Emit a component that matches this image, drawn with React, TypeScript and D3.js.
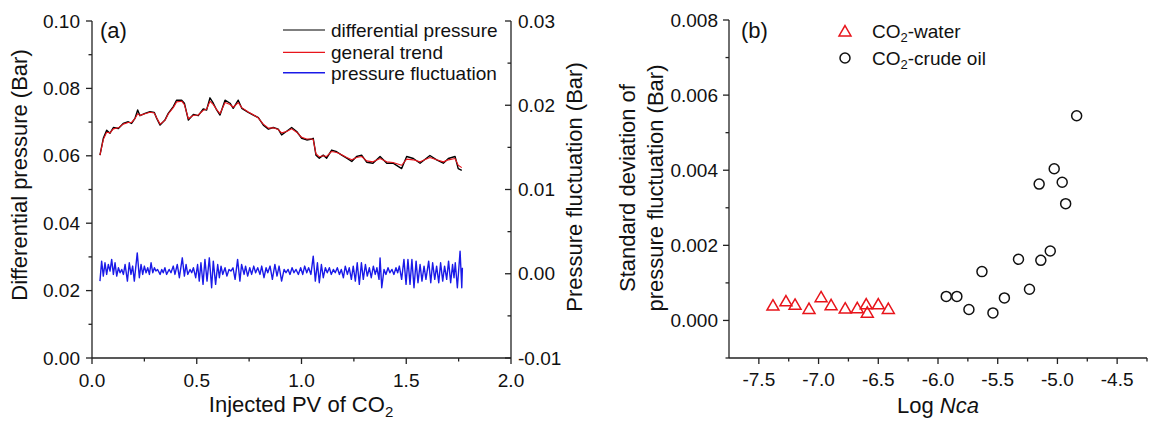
import React from "react";
import * as d3 from "d3";

const FONT = '"Liberation Sans", Arial, Helvetica, sans-serif';

// ---------- Panel (a) data ----------
const pressurePV = [
  0.038, 0.054, 0.070, 0.086, 0.102, 0.126, 0.149, 0.173, 0.189, 0.205,
  0.218, 0.229, 0.253, 0.277, 0.297, 0.309, 0.325, 0.348, 0.364, 0.388,
  0.404, 0.428, 0.441, 0.460, 0.484, 0.507, 0.531, 0.547, 0.563, 0.579,
  0.595, 0.611, 0.635, 0.659, 0.674, 0.698, 0.715, 0.746, 0.770, 0.794,
  0.818, 0.842, 0.865, 0.889, 0.905, 0.929, 0.953, 0.977, 1.001, 1.025,
  1.049, 1.056, 1.069, 1.085, 1.104, 1.120, 1.144, 1.168, 1.192, 1.216,
  1.240, 1.263, 1.287, 1.311, 1.341, 1.375, 1.407, 1.437, 1.478, 1.502,
  1.534, 1.566, 1.613, 1.645, 1.677, 1.701, 1.733, 1.748, 1.765,
];
const diffPressure = [
  0.0602, 0.0652, 0.0676, 0.0667, 0.0684, 0.0681, 0.0696, 0.0701, 0.0696, 0.0711,
  0.0736, 0.0719, 0.0726, 0.0731, 0.0729, 0.0711, 0.0691, 0.0706, 0.0726, 0.0746,
  0.0765, 0.0765, 0.0756, 0.0706, 0.0723, 0.0719, 0.0739, 0.0736, 0.0772, 0.0756,
  0.0736, 0.0721, 0.0765, 0.0756, 0.0741, 0.0765, 0.0741, 0.0729, 0.0721, 0.0713,
  0.0691, 0.0679, 0.0684, 0.0679, 0.0662, 0.0673, 0.0684, 0.0672, 0.0652, 0.0647,
  0.0650, 0.0652, 0.0602, 0.0593, 0.0602, 0.0593, 0.0617, 0.0612, 0.0602, 0.0593,
  0.0583, 0.0598, 0.0602, 0.0581, 0.0578, 0.0598, 0.0578, 0.0578, 0.0562, 0.0598,
  0.0592, 0.0578, 0.0601, 0.0588, 0.0578, 0.0592, 0.0598, 0.0562, 0.0557,
];
const generalTrend = [
  0.0602, 0.0648, 0.0670, 0.0668, 0.0680, 0.0683, 0.0694, 0.0699, 0.0699, 0.0710,
  0.0725, 0.0720, 0.0725, 0.0729, 0.0727, 0.0712, 0.0694, 0.0705, 0.0724, 0.0743,
  0.0760, 0.0762, 0.0752, 0.0710, 0.0720, 0.0721, 0.0735, 0.0738, 0.0762, 0.0752,
  0.0737, 0.0725, 0.0758, 0.0752, 0.0744, 0.0758, 0.0743, 0.0730, 0.0722, 0.0712,
  0.0694, 0.0682, 0.0683, 0.0678, 0.0668, 0.0672, 0.0680, 0.0670, 0.0655, 0.0650,
  0.0650, 0.0648, 0.0606, 0.0597, 0.0600, 0.0598, 0.0613, 0.0610, 0.0603, 0.0595,
  0.0588, 0.0595, 0.0598, 0.0585, 0.0582, 0.0592, 0.0582, 0.0580, 0.0572, 0.0590,
  0.0588, 0.0582, 0.0595, 0.0588, 0.0582, 0.0588, 0.0592, 0.0572, 0.0565,
];

const fluctPV = [
  0.038, 0.046, 0.054, 0.062, 0.070, 0.078, 0.086, 0.094, 0.102, 0.110,
  0.118, 0.126, 0.134, 0.142, 0.150, 0.158, 0.169, 0.178, 0.186, 0.194,
  0.202, 0.216, 0.226, 0.234, 0.242, 0.250, 0.258, 0.266, 0.274, 0.282,
  0.290, 0.298, 0.305, 0.313, 0.325, 0.333, 0.340, 0.348, 0.356, 0.368,
  0.377, 0.388, 0.396, 0.407, 0.417, 0.431, 0.441, 0.449, 0.457, 0.468,
  0.476, 0.484, 0.495, 0.504, 0.512, 0.520, 0.530, 0.539, 0.549, 0.560,
  0.571, 0.579, 0.590, 0.600, 0.608, 0.616, 0.624, 0.635, 0.644, 0.654,
  0.663, 0.673, 0.683, 0.695, 0.706, 0.714, 0.726, 0.733, 0.743, 0.753,
  0.762, 0.772, 0.781, 0.791, 0.802, 0.810, 0.821, 0.831, 0.839, 0.850,
  0.861, 0.873, 0.883, 0.893, 0.905, 0.917,
  0.926, 0.936, 0.945, 0.955, 0.964, 0.974, 0.985, 0.996, 1.006, 1.015,
  1.025, 1.034, 1.045, 1.056, 1.066, 1.076, 1.085, 1.095, 1.104, 1.114,
  1.123, 1.133, 1.142, 1.152, 1.161, 1.171, 1.181, 1.190, 1.200, 1.209,
  1.219, 1.228, 1.238, 1.247, 1.257, 1.266, 1.276, 1.286, 1.295, 1.305,
  1.314, 1.324, 1.333, 1.343, 1.352, 1.360, 1.370, 1.375, 1.383, 1.394,
  1.403, 1.413, 1.422, 1.432, 1.441, 1.451, 1.459, 1.467, 1.478, 1.489,
  1.499, 1.508, 1.518, 1.527, 1.537, 1.547, 1.556, 1.566, 1.575, 1.585,
  1.594, 1.607, 1.617, 1.626, 1.636, 1.645, 1.655, 1.664, 1.674, 1.683,
  1.693, 1.702, 1.712, 1.721, 1.728, 1.734, 1.744, 1.757, 1.765, 1.768,
];
const fluctValues = [
  -0.00087, 0.0015, -0.00028, 0.0013, -0.00008, 0.0011, 0.00032, 0.0017, -0.00008, 0.0013,
  -0.00028, 0.00071, 0.00012, 0.00051, -0.00008, 0.0011, -0.00087, 0.0013, -0.00008, 0.00091,
  -0.00087, 0.00248, -0.00047, 0.0011, -0.00008, 0.00091, 0.00012, 0.00071, -0.00008, 0.0013,
  0.00012, 0.00071, 0.00032, 0.00051, -0.00008, 0.00051, 0.00012, 0.00071, -0.00008, 0.00051,
  0.00012, 0.00091, -0.00008, 0.0011, -0.00047, 0.00189, -0.00028, 0.0011, -0.00008, 0.00051,
  0.00012, 0.00071, -0.00047, 0.0011, -0.00087, 0.0013, -0.00126, 0.0017, -0.00087, 0.00189,
  -0.00166, 0.0015, -0.00126, 0.0011, -0.00047, 0.00091, -0.00008, 0.00071, -0.00028, 0.00051,
  0.00032, 0.00071, -0.00067, 0.0017, -0.00087, 0.0011, -0.00008, 0.00091, -0.00028, 0.00071,
  -0.00008, 0.00091, 0.00012, 0.00071, -0.00008, 0.00091, -0.00047, 0.00071, 0.00012, 0.00091,
  -0.00067, 0.0011, -0.00028, 0.00091, -0.00087, 0.00051,
  0.00012, 0.00051, -0.00008, 0.00071, 0.00012, 0.00051, -0.00008, 0.00071, -0.00008, 0.00091,
  0.00012, 0.00071, -0.00008, 0.00209, -0.00087, 0.0013, -0.00107, 0.0011, -0.00047, 0.00071,
  0.00012, 0.00071, -0.00008, 0.00051, 0.00012, 0.00071, -0.00008, 0.00051, -0.00047, 0.00091,
  -0.00008, 0.00071, -0.00067, 0.00091, -0.00087, 0.0013, -0.00126, 0.0013, -0.00067, 0.0011,
  -0.00028, 0.00071, -0.00047, 0.00091, -0.00008, 0.00071, -0.00067, 0.00189, -0.00166, 0.00051,
  -0.00008, 0.00071, 0.00012, 0.00051, -0.00008, 0.00071, 0.00012, 0.00091, -0.00067, 0.0017,
  -0.00126, 0.0017, -0.00126, 0.0017, -0.00166, 0.0015, -0.00107, 0.0011, -0.00087, 0.00091,
  -0.00067, 0.0015, -0.00107, 0.0013, -0.00067, 0.00091, -0.00107, 0.0013, -0.00087, 0.00091,
  -0.00067, 0.0015, -0.00107, 0.0011, -0.00047, 0.0013, -0.00166, 0.00268, -0.00166, 0.00071,
];

const aLeftTicks = [0, 0.02, 0.04, 0.06, 0.08, 0.1];
const aLeftLabels = ["0.00", "0.02", "0.04", "0.06", "0.08", "0.10"];
const aLeftMinor = [0.01, 0.03, 0.05, 0.07, 0.09];
const aRightTicks = [-0.01, 0, 0.01, 0.02, 0.03];
const aRightLabels = ["-0.01", "0.00", "0.01", "0.02", "0.03"];
const aRightMinor = [-0.005, 0.005, 0.015, 0.025];
const aBottomTicks = [0, 0.5, 1, 1.5, 2];
const aBottomLabels = ["0.0", "0.5", "1.0", "1.5", "2.0"];
const aBottomMinor = [0.25, 0.75, 1.25, 1.75];

// ---------- Panel (b) data ----------
const waterLogNca = [-7.382, -7.273, -7.197, -7.08, -6.979, -6.895, -6.777, -6.676, -6.601, -6.592, -6.5, -6.416];
const waterStd = [0.00041, 0.00052, 0.00043, 0.00032, 0.00063, 0.00042, 0.00033, 0.00034, 0.00044, 0.00022, 0.00044, 0.00032];
const oilLogNca = [-5.931, -5.842, -5.741, -5.632, -5.54, -5.444, -5.326, -5.234, -5.139, -5.153, -5.06, -5.027, -4.96, -4.931, -4.839];
const oilStd = [0.00064, 0.00064, 0.00029, 0.0013, 0.0002, 0.0006, 0.00163, 0.00083, 0.0016, 0.00363, 0.00185, 0.00404, 0.00368, 0.00311, 0.00545];

const bLeftTicks = [0, 0.002, 0.004, 0.006, 0.008];
const bLeftLabels = ["0.000", "0.002", "0.004", "0.006", "0.008"];
const bLeftMinor = [-0.001, 0.001, 0.003, 0.005, 0.007];
const bBottomTicks = [-7.5, -7, -6.5, -6, -5.5, -5, -4.5];
const bBottomLabels = ["-7.5", "-7.0", "-6.5", "-6.0", "-5.5", "-5.0", "-4.5"];
const bBottomMinor = [-7.25, -6.75, -6.25, -5.75, -5.25, -4.75, -4.25];

const AX = "#222";
const TXT = "#111";
const RED = "#e8141b";
const BLUE = "#1a1ae8";

export default function App() {
  const xA = d3.scaleLinear().domain([0, 2]).range([92, 511]);
  const yA = d3.scaleLinear().domain([0, 0.1]).range([358, 21]);
  const yA2 = d3.scaleLinear().domain([-0.01, 0.03]).range([358, 21]);
  const xB = d3.scaleLinear().domain([-7.75, -4.25]).range([729, 1147]);
  const yB = d3.scaleLinear().domain([-0.001, 0.008]).range([358, 20]);

  const idxP = d3.range(pressurePV.length);
  const diffLine = d3.line<number>().x((i) => xA(pressurePV[i])).y((i) => yA(diffPressure[i]))(idxP) || "";
  const trendLine = d3.line<number>().x((i) => xA(pressurePV[i])).y((i) => yA(generalTrend[i]))(idxP) || "";
  const fluctLine = d3.line<number>().x((i) => xA(fluctPV[i])).y((i) => yA2(fluctValues[i]))(d3.range(fluctPV.length)) || "";

  const tri = d3.symbol().type(d3.symbolTriangle).size(62)() || "";

  const tickFs = 19;
  const titleFs = 22;

  return (
    <div style={{ position: "absolute", left: 0, top: 0 }}>
      <svg width={1149} height={426} style={{ display: "block", background: "#fff" }} fontFamily={FONT}>
        {/* ===== Panel (a) ===== */}
        <g>
          <path d={diffLine} fill="none" stroke="#000" strokeWidth={1.4} strokeLinejoin="round" />
          <path d={trendLine} fill="none" stroke={RED} strokeWidth={1.1} strokeLinejoin="round" />
          <path d={fluctLine} fill="none" stroke={BLUE} strokeWidth={1.4} strokeLinejoin="round" />

          {/* axes lines */}
          <line x1={92} x2={92} y1={yA(0.1)} y2={yA(0)} stroke={AX} strokeWidth={1.3} />
          <line x1={511} x2={511} y1={yA2(0.03)} y2={yA2(-0.01)} stroke={AX} strokeWidth={1.3} />
          <line x1={92} x2={511} y1={358} y2={358} stroke={AX} strokeWidth={1.3} />

          {aLeftTicks.map((t, i) => (
            <g key={"al" + i}>
              <line x1={86} x2={92} y1={yA(t)} y2={yA(t)} stroke={AX} strokeWidth={1.3} />
              <text x={80} y={yA(t)} dy="0.35em" textAnchor="end" fontSize={tickFs} fill={TXT}>{aLeftLabels[i]}</text>
            </g>
          ))}
          {aLeftMinor.map((t, i) => (
            <line key={"alm" + i} x1={88.5} x2={92} y1={yA(t)} y2={yA(t)} stroke={AX} strokeWidth={1.3} />
          ))}
          {aRightTicks.map((t, i) => (
            <g key={"ar" + i}>
              <line x1={505} x2={511} y1={yA2(t)} y2={yA2(t)} stroke={AX} strokeWidth={1.3} />
              <text x={518} y={yA2(t)} dy="0.35em" textAnchor="start" fontSize={tickFs} fill={TXT}>{aRightLabels[i]}</text>
            </g>
          ))}
          {aRightMinor.map((t, i) => (
            <line key={"arm" + i} x1={507.5} x2={511} y1={yA2(t)} y2={yA2(t)} stroke={AX} strokeWidth={1.3} />
          ))}
          {aBottomTicks.map((t, i) => (
            <g key={"ab" + i}>
              <line x1={xA(t)} x2={xA(t)} y1={358} y2={364} stroke={AX} strokeWidth={1.3} />
              <text x={xA(t)} y={387} textAnchor="middle" fontSize={tickFs} fill={TXT}>{aBottomLabels[i]}</text>
            </g>
          ))}
          {aBottomMinor.map((t, i) => (
            <line key={"abm" + i} x1={xA(t)} x2={xA(t)} y1={358} y2={361.5} stroke={AX} strokeWidth={1.3} />
          ))}

          {/* titles */}
          <text x={301} y={412} textAnchor="middle" fontSize={titleFs} fill={TXT}>
            Injected PV of CO<tspan fontSize={15} dy={5}>2</tspan>
          </text>
          <text transform="translate(27,175) rotate(-90)" textAnchor="middle" fontSize={titleFs} fill={TXT}>
            Differential pressure (Bar)
          </text>
          <text transform="translate(582,187) rotate(-90)" textAnchor="middle" fontSize={titleFs} fill={TXT}>
            Pressure fluctuation (Bar)
          </text>
          <text x={100} y={38} fontSize={22} fill={TXT}>(a)</text>

          {/* legend */}
          <line x1={283} x2={325} y1={30} y2={30} stroke="#000" strokeWidth={1.2} />
          <text x={331} y={36.5} fontSize={19} fill={TXT}>differential pressure</text>
          <line x1={283} x2={325} y1={52.3} y2={52.3} stroke={RED} strokeWidth={1.2} />
          <text x={331} y={58.8} fontSize={19} fill={TXT}>general trend</text>
          <line x1={283} x2={325} y1={72.7} y2={72.7} stroke={BLUE} strokeWidth={1.6} />
          <text x={331} y={79.5} fontSize={19} fill={TXT}>pressure fluctuation</text>
        </g>

        {/* ===== Panel (b) ===== */}
        <g>
          <line x1={729} x2={729} y1={yB(0.008)} y2={yB(-0.001)} stroke={AX} strokeWidth={1.3} />
          <line x1={729} x2={1147} y1={358} y2={358} stroke={AX} strokeWidth={1.3} />
          {bLeftTicks.map((t, i) => (
            <g key={"bl" + i}>
              <line x1={723} x2={729} y1={yB(t)} y2={yB(t)} stroke={AX} strokeWidth={1.3} />
              <text x={718} y={yB(t)} dy="0.35em" textAnchor="end" fontSize={tickFs} fill={TXT}>{bLeftLabels[i]}</text>
            </g>
          ))}
          {bLeftMinor.map((t, i) => (
            <line key={"blm" + i} x1={725.5} x2={729} y1={yB(t)} y2={yB(t)} stroke={AX} strokeWidth={1.3} />
          ))}
          {bBottomTicks.map((t, i) => (
            <g key={"bb" + i}>
              <line x1={xB(t)} x2={xB(t)} y1={358} y2={364} stroke={AX} strokeWidth={1.3} />
              <text x={xB(t)} y={386} textAnchor="middle" fontSize={tickFs} fill={TXT}>{bBottomLabels[i]}</text>
            </g>
          ))}
          {bBottomMinor.map((t, i) => (
            <line key={"bbm" + i} x1={xB(t)} x2={xB(t)} y1={358} y2={361.5} stroke={AX} strokeWidth={1.3} />
          ))}

          {waterLogNca.map((v, i) => (
            <path key={"w" + i} d={tri} transform={`translate(${xB(v)},${yB(waterStd[i]) + 1.5})`} fill="none" stroke={RED} strokeWidth={1.5} />
          ))}
          {oilLogNca.map((v, i) => (
            <circle key={"o" + i} cx={xB(v)} cy={yB(oilStd[i])} r={5} fill="none" stroke="#111" strokeWidth={1.5} />
          ))}

          <text x={938} y={413} textAnchor="middle" fontSize={titleFs} fill={TXT}>
            Log <tspan fontStyle="italic">Nca</tspan>
          </text>
          <text transform="translate(635,188) rotate(-90)" textAnchor="middle" fontSize={titleFs} fill={TXT}>
            Standard deviation of
          </text>
          <text transform="translate(663,188) rotate(-90)" textAnchor="middle" fontSize={titleFs} fill={TXT}>
            pressure fluctuation (Bar)
          </text>
          <text x={741} y={38} fontSize={22} fill={TXT}>(b)</text>

          {/* legend */}
          <path d={tri} transform="translate(845,32.5)" fill="none" stroke={RED} strokeWidth={1.5} />
          <text x={872} y={38} fontSize={19} fill={TXT}>
            CO<tspan fontSize={13} dy={4}>2</tspan><tspan dy={-4}>-water</tspan>
          </text>
          <circle cx={845} cy={58} r={5} fill="none" stroke="#111" strokeWidth={1.5} />
          <text x={872} y={65} fontSize={19} fill={TXT}>
            CO<tspan fontSize={13} dy={4}>2</tspan><tspan dy={-4}>-crude oil</tspan>
          </text>
        </g>
      </svg>
    </div>
  );
}
